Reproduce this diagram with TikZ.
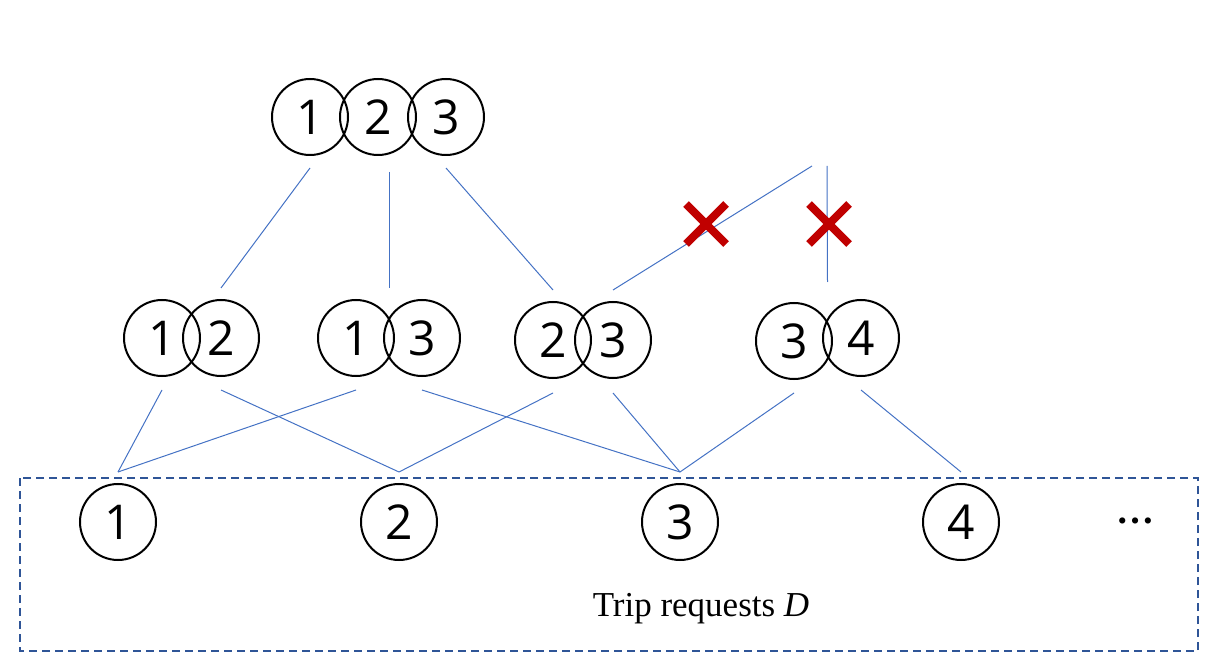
\documentclass[tikz,border=0pt]{standalone}
\usepackage{fontspec}
\setmainfont{Liberation Serif}
\newfontfamily\digitfont{Open Sans}
\usetikzlibrary{calc}

\definecolor{linkblue}{RGB}{68,114,196}
\definecolor{crossred}{RGB}{192,0,0}
\definecolor{boxblue}{RGB}{47,85,151}

\begin{document}
\begin{tikzpicture}[x=0.5pt, y=0.5pt, yscale=-1, inner sep=0pt, outer sep=0pt,
  trip/.style={circle, draw, line width=1pt, minimum size=38pt,
    font=\digitfont\fontsize{24}{24}\selectfont},
  link/.style={draw=linkblue, line width=0.5pt},
  cross/.style={draw=crossred, line width=4pt}]
\useasboundingbox (0,0) rectangle (1216,668);

% top level: trip 1,2,3
\node[trip] (t1) at (310,117) {1};
\node[trip] (t2) at (378,117) {2};
\node[trip] (t3) at (446,117) {3};

% pairs
\node[trip] (m12a) at (162,338) {1};
\node[trip] (m12b) at (221,338) {2};
\node[trip] (m13a) at (356,338) {1};
\node[trip] (m13b) at (422,338) {3};
\node[trip] (m23a) at (553,340) {2};
\node[trip] (m23b) at (613,340) {3};
\node[trip] (m34a) at (794,341) {3};
\node[trip] (m34b) at (861,338) {4};
\coordinate (m13) at ($(m13a)!0.5!(m13b)$);
\coordinate (m34) at ($(m34a)!0.5!(m34b)$);

% single requests
\node[trip] (b1) at (118,522) {1};
\node[trip] (b2) at (399,522) {2};
\node[trip] (b3) at (680,522) {3};
\node[trip] (b4) at (961,522) {4};
\node[font=\bfseries\fontsize{19}{19}\selectfont] (more) at (1135,521) {…};
\coordinate (b1in) at ($(b1.north)+(0,-12)$);
\coordinate (b2in) at ($(b2.north)+(0,-12)$);
\coordinate (b3in) at ($(b3.north)+(0,-12)$);
\coordinate (b4in) at ($(b4.north)+(0,-12)$);

\draw[boxblue, line width=1pt, dash pattern=on 4pt off 2.5pt] (20,478) rectangle (1198,651);
\node[font=\fontsize{17.5}{19}\selectfont] (dlabel) at (701,609) {Trip requests \textit{D}};

% links
\draw[link] ($(t1.south)+(0,13)$) -- ($(m12b.north)+(0,-12)$);
\draw[link] ($(m13 |- t2.south)+(0,17)$) -- ($(m13 |- m13a.north)+(0,-12)$);
\draw[link] ($(t3.south)+(0,13)$) -- ($(m23a.north)+(0,-12)$);
\coordinate (x23) at (812,166);
\coordinate (x34) at (827,166);
\draw[link] ($(m23b.north)+(0,-12)$) -- (x23);
\draw[link] ($(m34 |- m34b.north)+(0,-18)$) -- (x34);

\draw[link] ($(m12a.south)+(0,14)$) -- (b1in);
\draw[link] ($(m12b.south)+(0,14)$) -- (b2in);
\draw[link] ($(m13a.south)+(0,14)$) -- (b1in);
\draw[link] ($(m13b.south)+(0,14)$) -- (b3in);
\draw[link] ($(m23a.south)+(0,15)$) -- (b2in);
\draw[link] ($(m23b.south)+(0,15)$) -- (b3in);
\draw[link] ($(m34a.south)+(0,14)$) -- (b3in);
\draw[link] ($(m34b.south)+(0,14)$) -- (b4in);

% pruned links
\coordinate (cut1) at (706,224);
\coordinate (cut2) at (829,224);
\draw[cross] ($(cut1)+(-20,-20)$) -- ($(cut1)+(20,20)$)
  ($(cut1)+(-20,20)$) -- ($(cut1)+(20,-20)$);
\draw[cross] ($(cut2)+(-20,-20)$) -- ($(cut2)+(20,20)$)
  ($(cut2)+(-20,20)$) -- ($(cut2)+(20,-20)$);

\end{tikzpicture}
\end{document}
